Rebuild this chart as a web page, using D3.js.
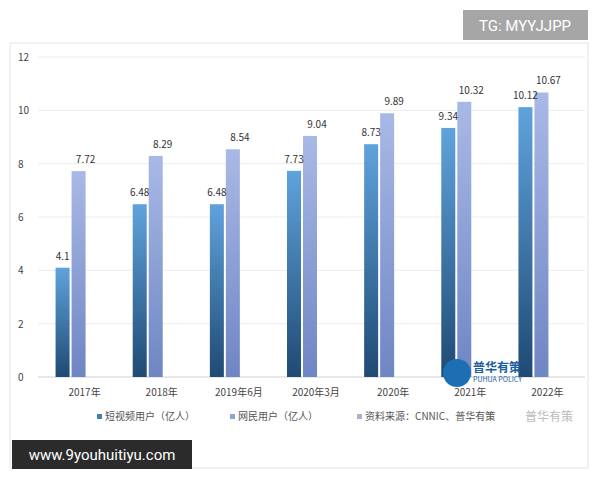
<!DOCTYPE html><html><head><meta charset="utf-8"><script src="https://cdn.jsdelivr.net/npm/d3@7"></script>
<style>body{margin:0;background:#fff;font-family:"Noto Sans CJK SC",sans-serif}</style></head><body>
<svg id="c" width="600" height="480"></svg>
<script>
const categories=["2017年","2018年","2019年6月","2020年3月","2020年","2021年","2022年"];
const shortVideo=[4.1,6.48,6.48,7.73,8.73,9.34,10.12];
const netUsers=[7.72,8.29,8.54,9.04,9.89,10.32,10.67];
const yTicks=[0,2,4,6,8,10,12];
const legendLabels=["短视频用户（亿人）","网民用户（亿人）","资料来源：CNNIC、普华有策"];
const svg=d3.select("#c");
const defs=svg.append("defs");
function grad(id,top,bot){const g=defs.append("linearGradient").attr("id",id).attr("x1",0).attr("y1",0).attr("x2",0).attr("y2",1);
g.append("stop").attr("offset","0%").attr("stop-color",top);g.append("stop").attr("offset","100%").attr("stop-color",bot);}
grad("g1","#5fa3dc","#1f4a73");grad("g2","#a9b9e6","#6f86c4");
svg.append("rect").attr("x",10).attr("y",43).attr("width",578).attr("height",425).attr("fill","#fff").attr("stroke","#e3e3e3");
const y=d3.scaleLinear().domain([0,12]).range([377,57]);
const x=d3.scaleBand().domain(categories).range([40,580]).paddingInner(0.6).paddingOuter(0.3);
const g=svg.append("g");
yTicks.forEach(t=>{g.append("line").attr("x1",38).attr("x2",585).attr("y1",y(t)).attr("y2",y(t)).attr("stroke",t===0?"#d0d0d0":"#ececec");
g.append("text").attr("x",18).attr("y",y(t)+4).attr("font-size",10).attr("fill","#444").text(t);});
const bw=14;
categories.forEach((c,i)=>{const cx=x(c)+x.bandwidth()/2-8;
g.append("rect").attr("x",cx-bw-1).attr("y",y(shortVideo[i])).attr("width",bw).attr("height",y(0)-y(shortVideo[i])).attr("fill","url(#g1)");
g.append("rect").attr("x",cx+1).attr("y",y(netUsers[i])).attr("width",bw).attr("height",y(0)-y(netUsers[i])).attr("fill","url(#g2)");
g.append("text").attr("x",cx-bw/2-1).attr("y",y(shortVideo[i])-8).attr("text-anchor","middle").attr("font-size",10).attr("fill","#333").text(shortVideo[i]);
g.append("text").attr("x",cx+bw/2+8).attr("y",y(netUsers[i])-8).attr("text-anchor","middle").attr("font-size",10).attr("fill","#333").text(netUsers[i]);
g.append("text").attr("x",x(c)+x.bandwidth()/2+6).attr("y",396).attr("text-anchor","middle").attr("font-size",10).attr("fill","#444").text(c);});
const lx=[97,230,357],lc=["#3f7fb8","#8ea5d8","#aab3c8"];
legendLabels.forEach((l,i)=>{svg.append("rect").attr("x",lx[i]).attr("y",414).attr("width",5).attr("height",5).attr("fill",lc[i]);
svg.append("text").attr("x",lx[i]+8).attr("y",420).attr("font-size",10).attr("fill","#555").text(l);});
svg.append("text").attr("x",525).attr("y",421).attr("font-size",12).attr("fill","#bbb").text("普华有策");
svg.append("circle").attr("cx",457).attr("cy",373).attr("r",14).attr("fill","#1b6fb3");
svg.append("text").attr("x",473).attr("y",372).attr("font-size",12).attr("font-weight","bold").attr("fill","#1b5fa0").text("普华有策");
svg.append("text").attr("x",473).attr("y",382).attr("font-size",7).attr("fill","#1b5fa0").text("PUHUA POLICY");
svg.append("rect").attr("x",463).attr("y",10).attr("width",125).attr("height",30).attr("fill","#a6a6a6");
svg.append("text").attr("x",525).attr("y",31).attr("text-anchor","middle").attr("font-size",15).attr("fill","#fff").attr("font-family","Roboto").text("TG: MYYJJPP");
svg.append("rect").attr("x",12).attr("y",440).attr("width",180).attr("height",29).attr("fill","#2b2b2b");
svg.append("text").attr("x",102).attr("y",460).attr("text-anchor","middle").attr("font-size",15).attr("fill","#fff").attr("font-family","Roboto").text("www.9youhuitiyu.com");
</script></body></html>
